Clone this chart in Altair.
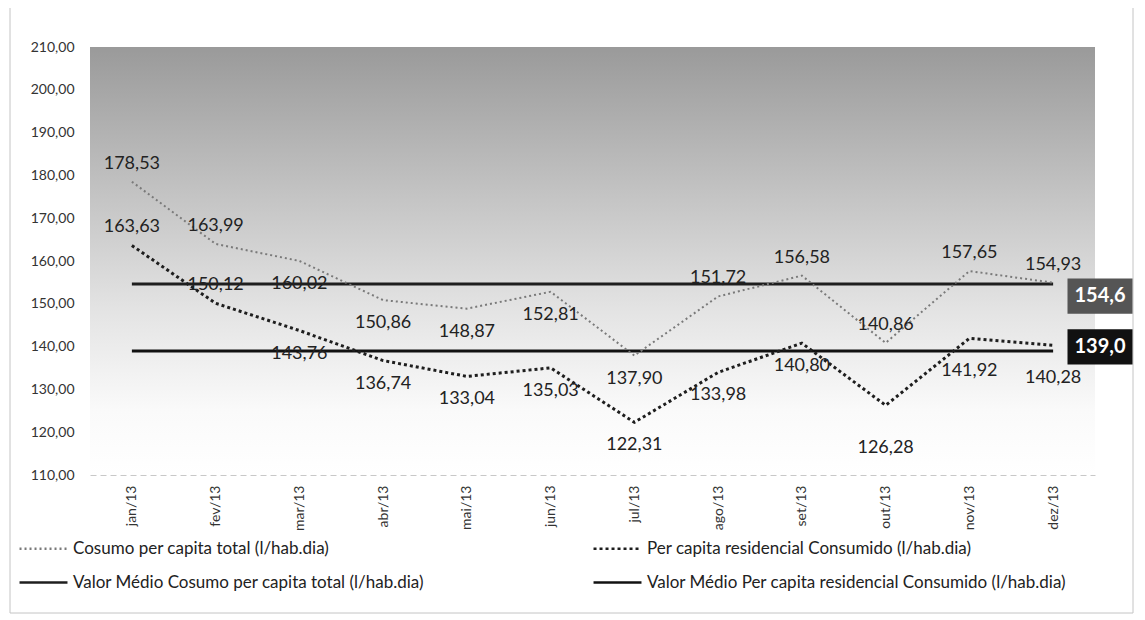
import altair as alt
import pandas as pd

months = ["jan/13", "fev/13", "mar/13", "abr/13", "mai/13", "jun/13",
          "jul/13", "ago/13", "set/13", "out/13", "nov/13", "dez/13"]
total = [178.53, 163.99, 160.02, 150.86, 148.87, 152.81,
         137.90, 151.72, 156.58, 140.86, 157.65, 154.93]
resid = [163.63, 150.12, 143.76, 136.74, 133.04, 135.03,
         122.31, 133.98, 140.80, 126.28, 141.92, 140.28]
mean_total = 154.6
mean_resid = 139.0
# which side of the point each data label sits on
# a = above, b = below, c = further below, f = far below
total_label_side = ["a", "a", "b", "b", "b", "b", "b", "a", "a", "a", "a", "a"]
resid_label_side = ["a", "a", "b", "b", "b", "b", "b", "b", "b", "f", "c", "c"]

S_TOT = "Cosumo per capita total (l/hab.dia)"
S_RES = "Per capita residencial Consumido (l/hab.dia)"
S_MTOT = "Valor Médio Cosumo per capita total (l/hab.dia)"
S_MRES = "Valor Médio Per capita residencial Consumido (l/hab.dia)"
series_order = [S_TOT, S_RES, S_MTOT, S_MRES]
series_colors = ["#7a7a7a", "#1e1e1e", "#1e1e1e", "#111111"]
series_dash = [[2, 3], [3, 3], [1, 0], [1, 0]]

rows = []
for i, m in enumerate(months):
    rows.append(dict(mes=m, serie=S_TOT, valor=total[i], lado=total_label_side[i]))
    rows.append(dict(mes=m, serie=S_RES, valor=resid[i], lado=resid_label_side[i]))
    rows.append(dict(mes=m, serie=S_MTOT, valor=mean_total, lado=""))
    rows.append(dict(mes=m, serie=S_MRES, valor=mean_resid, lado=""))
df = pd.DataFrame(rows)
df["rotulo"] = df["valor"].map(lambda v: f"{v:.2f}".replace(".", ","))

means = pd.DataFrame({
    "serie": [S_MTOT, S_MRES],
    "valor": [mean_total, mean_resid],
    "texto": [f"{mean_total:.1f}".replace(".", ","), f"{mean_resid:.1f}".replace(".", ",")],
    "cor": ["#555555", "#111111"],
})

W, H = 1005, 428
FONT = "Lato"
yscale = alt.Scale(domain=[110, 210], nice=False, zero=False)

xenc = alt.X("mes:N", sort=months, title=None,
             scale=alt.Scale(type="point", padding=0.5),
             axis=alt.Axis(labelAngle=-90, labelFont=FONT, labelFontSize=14,
                           labelColor="#333333", labelPadding=10, ticks=False,
                           domainColor="#c8c8c8", domainDash=[6, 4]))
yenc = alt.Y("valor:Q", title=None, scale=yscale,
             axis=alt.Axis(values=list(range(110, 211, 10)),
                           labelExpr="replace(format(datum.value, '.2f'), '.', ',')",
                           grid=False, domain=False, ticks=False, labelFont=FONT,
                           labelFontSize=14, labelColor="#333333", labelPadding=16))

legend = alt.Legend(orient="none", legendX=-72, legendY=476, columns=2, title=None,
                    symbolType="stroke", symbolSize=2300, symbolStrokeWidth=2.5,
                    labelFont=FONT, labelFontSize=17, labelColor="#222222",
                    labelLimit=700, columnPadding=163, rowPadding=-14,
                    direction="horizontal", labelOffset=4)
color = alt.Color("serie:N", scale=alt.Scale(domain=series_order, range=series_colors),
                  legend=legend)
dash = alt.StrokeDash("serie:N", scale=alt.Scale(domain=series_order, range=series_dash),
                      legend=legend)

base = alt.Chart(df)

bg = alt.Chart(pd.DataFrame({"k": [0]})).mark_rect(
    color=alt.LinearGradient(
        gradient="linear", x1=0, x2=0, y1=0, y2=1,
        stops=[alt.GradientStop(color="#9a9a9a", offset=0),
               alt.GradientStop(color="#c4c4c4", offset=0.35),
               alt.GradientStop(color="#e4e4e4", offset=0.62),
               alt.GradientStop(color="#fafafa", offset=0.85),
               alt.GradientStop(color="#ffffff", offset=1)])
).encode(x=alt.value(0), x2=alt.value(W), y=alt.value(0), y2=alt.value(H))

frame = alt.Chart(pd.DataFrame({"k": [0]})).mark_rect(
    filled=False, stroke="#c4c4c4", strokeWidth=1
).encode(x=alt.value(-80), x2=alt.value(W + 38), y=alt.value(-40), y2=alt.value(H + 138))

line_tot = base.transform_filter(alt.datum.serie == S_TOT).mark_line(
    strokeWidth=2).encode(x=xenc, y=yenc, color=color, strokeDash=dash)
line_res = base.transform_filter(alt.datum.serie == S_RES).mark_line(
    strokeWidth=3).encode(x=xenc, y=yenc, color=color, strokeDash=dash)
line_mean = base.transform_filter(
    (alt.datum.serie == S_MTOT) | (alt.datum.serie == S_MRES)
).mark_line(strokeWidth=3).encode(x=xenc, y=yenc, color=color, strokeDash=dash, detail="serie:N")

label_layers = []
for side, d in [("a", -18), ("b", 23), ("c", 33), ("f", 43)]:
    label_layers.append(
        base.transform_filter(alt.datum.lado == side).mark_text(
            font=FONT, fontSize=18, color="#222222", dy=d
        ).encode(x=xenc, y=yenc, text="rotulo:N")
    )

box_layers = []
for serie, yoff in [(S_MTOT, 12), (S_MRES, -4)]:
    sub = alt.Chart(means).transform_filter(alt.datum.serie == serie)
    box_layers.append(sub.mark_point(
        shape="M-1,-0.54L1,-0.54L1,0.54L-1,0.54Z", filled=True, opacity=1,
        size=4225, xOffset=5, yOffset=yoff
    ).encode(x=alt.value(W), y=alt.Y("valor:Q", scale=yscale),
             color=alt.Color("cor:N", scale=None)))
    box_layers.append(sub.mark_text(
        font=FONT, fontSize=20, fontWeight="bold", color="white", xOffset=5, yOffset=yoff
    ).encode(x=alt.value(W), y=alt.Y("valor:Q", scale=yscale), text="texto:N"))

chart = alt.layer(
    frame, bg, line_mean, line_tot, line_res, *label_layers, *box_layers
).properties(
    width=W, height=H,
    autosize=alt.AutoSizeParams(type="none"),
    padding={"left": 82, "top": 39, "right": 42, "bottom": 140},
    background="white",
).configure_view(stroke=None)

chart.save("out.html", embed_options={"renderer": "svg", "actions": False})
